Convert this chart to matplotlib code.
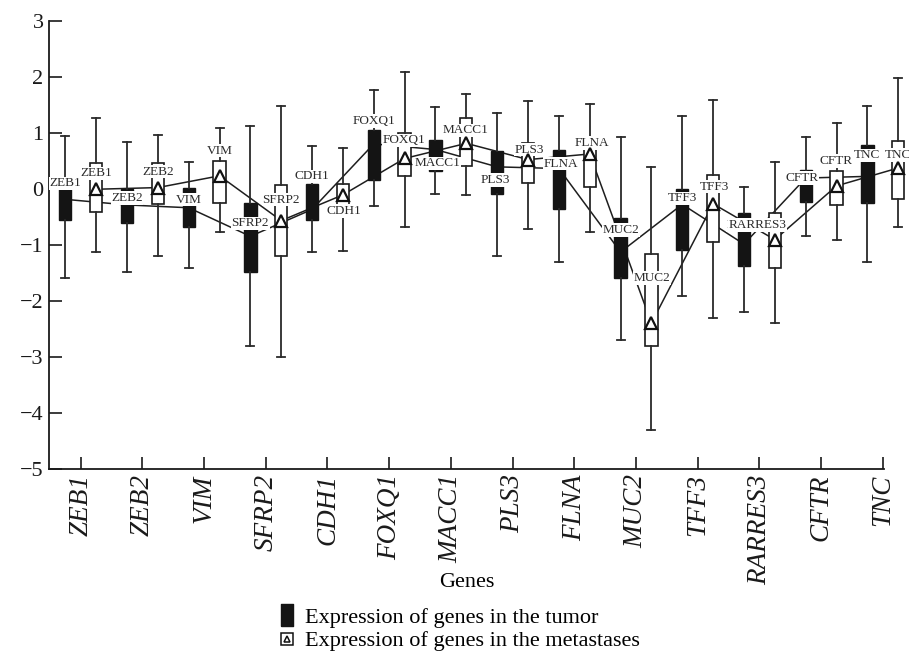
import matplotlib
matplotlib.use('Agg')
import matplotlib.pyplot as plt
import numpy as np
from matplotlib.lines import Line2D

plt.rcParams['font.family'] = ['Liberation Serif', 'DejaVu Serif']
plt.rcParams['axes.unicode_minus'] = True

# ---------------- data ----------------
genes = ['ZEB1', 'ZEB2', 'VIM', 'SFRP2', 'CDH1', 'FOXQ1', 'MACC1', 'PLS3',
         'FLNA', 'MUC2', 'TFF3', 'RARRES3', 'CFTR', 'TNC']

# tumor
tumor_mean = [-0.19, -0.29, -0.34, -0.85, -0.37, 0.80, 0.70, 0.39, 0.36, -1.13, -0.28, -0.99, 0.19, 0.22]
tumor_q1 = [-0.56, -0.61, -0.68, -1.48, -0.55, 0.16, 0.32, -0.10, -0.37, -1.60, -1.09, -1.38, -0.23, -0.26]
tumor_q3 = [0.19, 0.00, 0.02, -0.25, 0.08, 1.05, 0.87, 0.68, 0.69, -0.53, 0.00, -0.44, 0.33, 0.78]
tumor_lo = [-1.60, -1.48, -1.41, -2.80, -1.13, -0.31, -0.10, -1.21, -1.30, -2.70, -1.92, -2.21, -0.84, -1.30]
tumor_hi = [0.94, 0.84, 0.48, 1.12, 0.76, 1.76, 1.46, 1.36, 1.29, 0.92, 1.29, 0.03, 0.92, 1.48]

# metastases
met_mean = [-0.01, 0.02, 0.23, -0.57, -0.11, 0.54, 0.81, 0.52, 0.62, -2.40, -0.27, -0.91, 0.05, 0.37]
met_q1 = [-0.42, -0.27, -0.26, -1.20, -0.48, 0.23, 0.40, 0.11, 0.03, -2.80, -0.96, -1.41, -0.29, -0.18]
met_q3 = [0.46, 0.46, 0.50, 0.07, 0.08, 0.99, 1.27, 0.81, 0.93, -1.17, 0.25, -0.44, 0.32, 0.86]
met_lo = [-1.13, -1.21, -0.77, -3.00, -1.11, -0.69, -0.11, -0.72, -0.77, -4.31, -2.30, -2.40, -0.92, -0.69]
met_hi = [1.26, 0.96, 1.09, 1.48, 0.72, 2.08, 1.69, 1.57, 1.51, 0.38, 1.58, 0.48, 1.18, 1.98]

yticks = [-5, -4, -3, -2, -1, 0, 1, 2, 3]
legend_labels = ['Expression of genes in the tumor', 'Expression of genes in the metastases']
xlabel = 'Genes'

# label offsets (pixels, layout only)
tumor_lab_off = [(0, 16), (0, 7), (0, 8), (0, 13), (0, 33), (0, 23), (2, -14), (-2, -13),
                 (2, 5), (0, 22), (0, 6), (12, 19), (-4, 0), (0, 21)]
met_lab_off = [(0, 16), (0, 16), (0, 25), (0, 21), (1, -16), (-1, 18), (-1, 13), (1, 10),
               (2, 11), (1, 45), (1, 17), (-17, 15), (-1, 25), (0, 13)]

# ---------------- figure ----------------
W, H = 909, 665
fig = plt.figure(figsize=(W / 100, H / 100), dpi=100)
ax_left, ax_right, ax_top, ax_bot = 49, 884, 20.7, 468.7
ax = fig.add_axes([ax_left / W, 1 - ax_bot / H, (ax_right - ax_left) / W, (ax_bot - ax_top) / H])

x = np.arange(len(genes))
xt = x - 0.25
xm = x + 0.25

line_col = '#1e1e1e'
ax.plot(xt, tumor_mean, color=line_col, lw=1.1, zorder=1, clip_on=False)
ax.plot(xm, met_mean, color=line_col, lw=1.1, zorder=1, clip_on=False)


def make_stats(q1, q3, lo, hi, mean):
    return [dict(q1=a, q3=b, whislo=c, whishi=d, med=e, mean=e, fliers=[])
            for a, b, c, d, e in zip(q1, q3, lo, hi, mean)]


common = dict(widths=0.2, patch_artist=True, showfliers=False, showmeans=False,
              whiskerprops=dict(color='#2a2a2a', lw=1.3),
              capprops=dict(color='#2a2a2a', lw=1.3),
              medianprops=dict(visible=False), capwidths=0.13,
              manage_ticks=False, zorder=2)

bt = ax.bxp(make_stats(tumor_q1, tumor_q3, tumor_lo, tumor_hi, tumor_mean), positions=xt,
            boxprops=dict(facecolor='#141414', edgecolor='#141414', lw=1.0), **common)
bm = ax.bxp(make_stats(met_q1, met_q3, met_lo, met_hi, met_mean), positions=xm,
            boxprops=dict(facecolor='white', edgecolor='#1a1a1a', lw=1.2), **common)
for d in (bt, bm):
    for k, arts in d.items():
        for a in arts:
            a.set_clip_on(False)

# triangles for metastases means
ax.plot(xm, met_mean, linestyle='none', marker='^', ms=8, mfc='white', mec='#111',
        mew=1.6, zorder=6, clip_on=False)

# labels
lab_kw = dict(textcoords='offset pixels', ha='center', va='center', fontsize=9.5,
              color='#2a2a2a', annotation_clip=False, zorder=5,
              bbox=dict(boxstyle='square,pad=0.05', fc='white', ec='none'))
for i, g in enumerate(genes):
    ax.annotate(g, (xt[i], tumor_mean[i]), xytext=tumor_lab_off[i], **lab_kw)
    ax.annotate(g, (xm[i], met_mean[i]), xytext=met_lab_off[i], **lab_kw)

# axes
ax.set_xlim((ax_left - 80.7) / 61.7, (ax_right - 80.7) / 61.7)
ax.set_ylim(-5, 3)
ax.set_yticks(yticks)
ax.set_xticks(x)
ax.set_xticklabels(genes, rotation=90, fontstyle='italic', fontsize=19.5)
ax.tick_params(axis='y', labelsize=16, direction='in', length=9, width=1.2, pad=4, colors='#1a1a1a')
ax.tick_params(axis='x', direction='in', length=9, width=1.2, pad=4, colors='#1a1a1a')
for s in ('top', 'right'):
    ax.spines[s].set_visible(False)
for s in ('left', 'bottom'):
    ax.spines[s].set_linewidth(1.3)
    ax.spines[s].set_color('#1a1a1a')

ax.set_xlabel(xlabel, fontsize=16)
ax.xaxis.set_label_coords(0.5, -0.232)

# legend
h_tumor = Line2D([], [], linestyle='none',
                 marker=[(-0.27, -0.5), (0.27, -0.5), (0.27, 0.5), (-0.27, 0.5), (-0.27, -0.5)],
                 ms=16, mfc='#141414', mec='#141414')
h_box = Line2D([], [], linestyle='none', marker='s', ms=8, mfc='white', mec='#111', mew=1.1)
h_tri = Line2D([], [], linestyle='none', marker='^', ms=4.5, mfc='white', mec='#111', mew=1.1)
fig.legend([h_tumor, (h_box, h_tri)], legend_labels, loc='upper left',
           bbox_to_anchor=(278 / W, 1 - 607 / H), frameon=False, fontsize=16,
           handlelength=0.8, handletextpad=0.4, labelspacing=0.15,
           borderpad=0, borderaxespad=0)

fig.savefig('out.png', dpi=100)
